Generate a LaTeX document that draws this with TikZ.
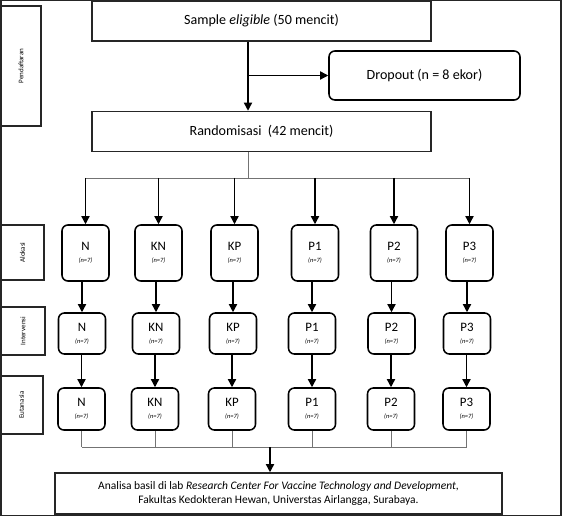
\documentclass[tikz,border=0pt]{standalone}
\usepackage{fontspec}
\setmainfont{Carlito}
\usetikzlibrary{arrows.meta, positioning}
\newcommand{\grouplabel}[1]{#1\\[-2pt]{\fontsize{5.5}{6}\selectfont\itshape(n=7)}}

\begin{document}
\begin{tikzpicture}[
    every node/.style={font=\fontsize{12}{14}\selectfont},
    bigbox/.style={draw=black!85, line width=1.3pt, minimum width=10.17cm, minimum height=1.2cm, inner sep=0pt},
    grp/.style={draw, line width=1.3pt, rounded corners=5pt, minimum width=1.41cm, align=center, inner sep=0pt, font=\fontsize{11}{12}\selectfont},
    side/.style={draw=black!85, line width=1.3pt, inner sep=0pt, rotate=90, font=\fontsize{6}{7}\selectfont},
    arrow/.style={-{Triangle[length=7pt,width=7pt]}, line width=1.2pt},
    link/.style={black!55, line width=0.7pt},
]
\useasboundingbox (0,0) rectangle (16.89,-15.51);
\draw[line width=1.2pt, black!85] (0.03,-0.02) rectangle (16.83,-15.47);

% side labels
\node[side, minimum width=3.6cm, minimum height=1.2cm] (lblDaftar) at (0.63,-1.98) {Pendaftaran};
\node[side, minimum width=1.65cm, minimum height=1.29cm] (lblAlokasi) at (0.675,-7.575) {Alokasi};
\node[side, minimum width=1.44cm, minimum height=1.32cm] (lblInterv) at (0.69,-9.93) {Intervensi};
\node[side, minimum width=1.74cm, minimum height=1.29cm] (lblEutan) at (0.645,-12.15) {Eutanasia};

% enrolment
\node[bigbox] (sample) at (7.845,-0.63) {Sample \textit{eligible} (50 mencit)};
\node[draw, line width=1.3pt, rounded corners=5pt, minimum width=5.73cm, minimum height=1.47cm, inner sep=0pt] (dropout) at (12.735,-2.265) {Dropout (n = 8 ekor)};
\node[bigbox] (rand) at (7.845,-3.945) {Randomisasi\ \ (42 mencit)};
\coordinate (trunk) at (7.44,0);
\coordinate (split) at (7.44,-5.34);
\draw[arrow] (sample.south -| trunk) -- (rand.north -| trunk);
\draw[arrow] (trunk |- dropout) -- (dropout.west);
\draw[link] (rand.south -| trunk) -- (split);

% alokasi
\node[grp, minimum height=1.68cm] (al1) at (2.565,-7.59) {\grouplabel{N}};
\node[grp, minimum height=1.68cm] (al2) at (4.755,-7.59) {\grouplabel{KN}};
\node[grp, minimum height=1.68cm] (al3) at (7.035,-7.59) {\grouplabel{KP}};
\node[grp, minimum height=1.68cm] (al4) at (9.45,-7.59) {\grouplabel{P1}};
\node[grp, minimum height=1.68cm] (al5) at (11.82,-7.59) {\grouplabel{P2}};
\node[grp, minimum height=1.68cm] (al6) at (14.085,-7.59) {\grouplabel{P3}};

% intervensi
\node[grp, minimum height=1.23cm] (in1) at (2.46,-10.005) {\grouplabel{N}};
\node[grp, minimum height=1.23cm] (in2) at (4.68,-10.005) {\grouplabel{KN}};
\node[grp, minimum height=1.23cm] (in3) at (6.99,-10.005) {\grouplabel{KP}};
\node[grp, minimum height=1.23cm] (in4) at (9.36,-10.005) {\grouplabel{P1}};
\node[grp, minimum height=1.23cm] (in5) at (11.745,-10.005) {\grouplabel{P2}};
\node[grp, minimum height=1.23cm] (in6) at (14.01,-10.005) {\grouplabel{P3}};

% eutanasia
\node[grp, minimum height=1.26cm] (eu1) at (2.445,-12.27) {\grouplabel{N}};
\node[grp, minimum height=1.26cm] (eu2) at (4.65,-12.27) {\grouplabel{KN}};
\node[grp, minimum height=1.26cm] (eu3) at (6.96,-12.27) {\grouplabel{KP}};
\node[grp, minimum height=1.26cm] (eu4) at (9.36,-12.27) {\grouplabel{P1}};
\node[grp, minimum height=1.26cm] (eu5) at (11.73,-12.27) {\grouplabel{P2}};
\node[grp, minimum height=1.26cm] (eu6) at (13.995,-12.27) {\grouplabel{P3}};

% analysis
\coordinate (join) at (8.1,-13.41);
\node[draw=black!85, line width=1.3pt, minimum width=13.41cm, minimum height=1.23cm, align=center, inner sep=0pt, font=\fontsize{9.8}{12}\selectfont] (analisa) at (8.355,-14.805) {Analisa basil di lab \textit{Research Center For Vaccine Technology and Development},\\ Fakultas Kedokteran Hewan, Universtas Airlangga, Surabaya.};

\draw[link] (split -| al1) -- (split -| al6);
\draw[arrow] (split -| al1) -- (al1.north);
\draw[arrow] (split -| al2) -- (al2.north);
\draw[arrow] (split -| al3) -- (al3.north);
\draw[arrow] (split -| al4) -- (al4.north);
\draw[arrow] (split -| al5) -- (al5.north);
\draw[arrow] (split -| al6) -- (al6.north);
\draw[arrow] (al1.south -| in1) -- (in1.north);
\draw[arrow] (al2.south -| in2) -- (in2.north);
\draw[arrow] (al3.south -| in3) -- (in3.north);
\draw[arrow] (al4.south -| in4) -- (in4.north);
\draw[arrow] (al5.south -| in5) -- (in5.north);
\draw[arrow] (al6.south -| in6) -- (in6.north);
\draw[arrow] (in1.south -| eu1) -- (eu1.north);
\draw[arrow] (in2.south -| eu2) -- (eu2.north);
\draw[arrow] (in3.south -| eu3) -- (eu3.north);
\draw[arrow] (in4.south -| eu4) -- (eu4.north);
\draw[arrow] (in5.south -| eu5) -- (eu5.north);
\draw[arrow] (in6.south -| eu6) -- (eu6.north);
\draw[link] (eu1.south) -- (join -| eu1);
\draw[link] (eu2.south) -- (join -| eu2);
\draw[link] (eu3.south) -- (join -| eu3);
\draw[link] (eu4.south) -- (join -| eu4);
\draw[link] (eu5.south) -- (join -| eu5);
\draw[link] (eu6.south) -- (join -| eu6);
\draw[link] (join -| eu1) -- (join -| eu6);
\draw[arrow] (join) -- (analisa.north -| join);
\end{tikzpicture}
\end{document}
